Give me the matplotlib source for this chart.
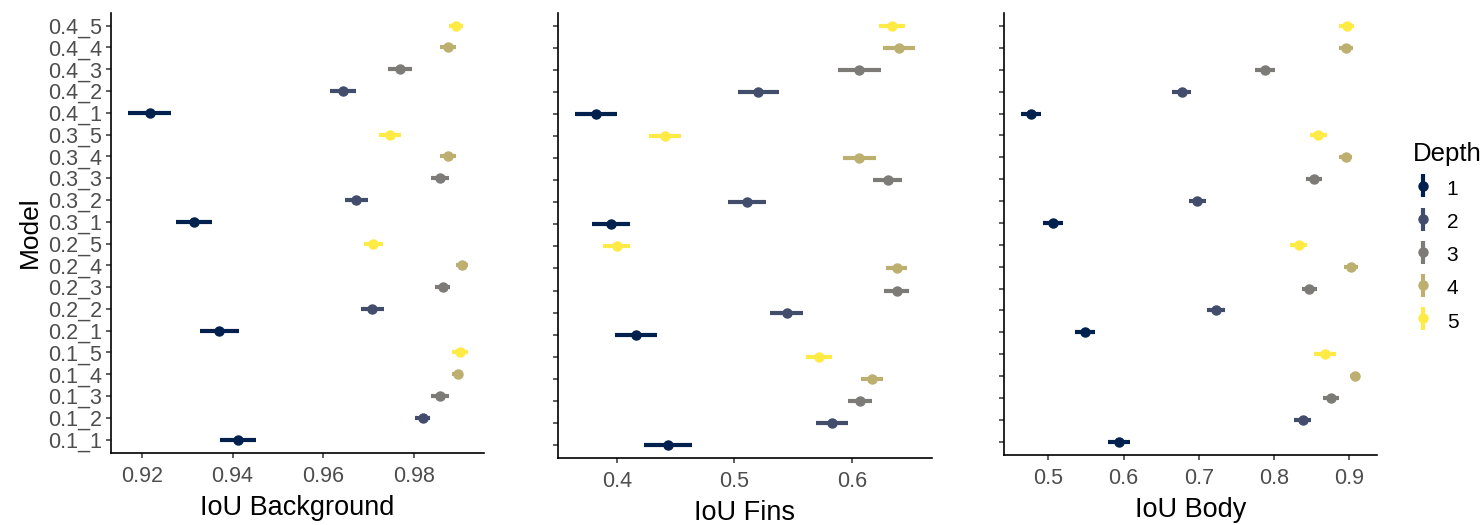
import numpy as np
import matplotlib
matplotlib.use('Agg')
import matplotlib.pyplot as plt
from matplotlib.legend_handler import HandlerErrorbar

plt.rcParams['font.family'] = ['Liberation Sans', 'DejaVu Sans']

# models from bottom to top of the y axis
models = ['0.1_1', '0.1_2', '0.1_3', '0.1_4', '0.1_5',
          '0.2_1', '0.2_2', '0.2_3', '0.2_4', '0.2_5',
          '0.3_1', '0.3_2', '0.3_3', '0.3_4', '0.3_5',
          '0.4_1', '0.4_2', '0.4_3', '0.4_4', '0.4_5']
depth = [1, 2, 3, 4, 5] * 4

bg_mean = [0.9412, 0.9819, 0.9857, 0.9896, 0.9901,
           0.9371, 0.9708, 0.9863, 0.9905, 0.9710,
           0.9315, 0.9673, 0.9857, 0.9875, 0.9746,
           0.9217, 0.9643, 0.9769, 0.9874, 0.9892]
bg_err = [0.0040, 0.0017, 0.0019, 0.0012, 0.0017,
          0.0042, 0.0025, 0.0017, 0.0013, 0.0021,
          0.0040, 0.0026, 0.0019, 0.0017, 0.0024,
          0.0047, 0.0028, 0.0026, 0.0018, 0.0015]

fins_mean = [0.4439, 0.5830, 0.6071, 0.6170, 0.5719,
             0.4162, 0.5447, 0.6383, 0.6383, 0.4000,
             0.3951, 0.5112, 0.6306, 0.6065, 0.4411,
             0.3824, 0.5205, 0.6065, 0.6400, 0.6340]
fins_err = [0.0203, 0.0138, 0.0099, 0.0092, 0.0109,
            0.0180, 0.0142, 0.0106, 0.0089, 0.0116,
            0.0165, 0.0162, 0.0123, 0.0139, 0.0135,
            0.0179, 0.0172, 0.0184, 0.0136, 0.0110]

body_mean = [0.5935, 0.8378, 0.8754, 0.9073, 0.8679,
             0.5487, 0.7227, 0.8467, 0.9020, 0.8325,
             0.5062, 0.6979, 0.8529, 0.8949, 0.8586,
             0.4766, 0.6771, 0.7878, 0.8954, 0.8963]
body_err = [0.0146, 0.0110, 0.0106, 0.0060, 0.0144,
            0.0135, 0.0122, 0.0097, 0.0089, 0.0110,
            0.0128, 0.0110, 0.0106, 0.0089, 0.0110,
            0.0133, 0.0124, 0.0137, 0.0097, 0.0102]

depth_levels = [1, 2, 3, 4, 5]
depth_colors = ['#00204D', '#414D6B', '#7C7B78', '#BCAF6F', '#FFEA46']

W, H = 1484, 525
fig = plt.figure(figsize=(W / 100, H / 100), dpi=100)


def px_axes(left, right, top, bottom):
    return fig.add_axes([left / W, 1 - bottom / H, (right - left) / W, (bottom - top) / H])


panels = [
    (px_axes(111, 484, 12.6, 452.7), bg_mean, bg_err, 'IoU Background',
     (0.9132, 0.9954), [0.92, 0.94, 0.96, 0.98]),
    (px_axes(557.7, 931.7, 12.6, 458.2), fins_mean, fins_err, 'IoU Fins',
     (0.3498, 0.668), [0.4, 0.5, 0.6]),
    (px_axes(1004.3, 1377.3, 12.9, 454.8), body_mean, body_err, 'IoU Body',
     (0.4416, 0.937), [0.5, 0.6, 0.7, 0.8, 0.9]),
]

y = np.arange(len(models))
depth_arr = np.array(depth)

for i, (ax, mean, err, xlabel, xlim, xticks) in enumerate(panels):
    mean = np.array(mean)
    err = np.array(err)
    for d, c in zip(depth_levels, depth_colors):
        m = depth_arr == d
        eb = ax.errorbar(mean[m], y[m], xerr=err[m], fmt='o', color=c,
                         ecolor=c, elinewidth=3.0, markersize=6.5, capsize=0)
        for coll in eb[2]:
            coll.set_capstyle('butt')
    ax.set_xlim(*xlim)
    ax.set_ylim(-0.6, len(models) - 0.4)
    ax.set_xticks(xticks)
    ax.set_xticklabels([f'{t:g}' for t in xticks])
    ax.set_yticks(y)
    if i == 0:
        ax.set_yticklabels(models)
        ax.set_ylabel('Model', fontsize=19, color='black', labelpad=4)
    else:
        ax.set_yticklabels([])
    ax.set_xlabel(xlabel, fontsize=19.5, color='black', labelpad=5.5)
    for s in ['top', 'right']:
        ax.spines[s].set_visible(False)
    for s in ['left', 'bottom']:
        ax.spines[s].set_linewidth(1.2)
        ax.spines[s].set_color('black')
    ax.tick_params(axis='both', length=3.5, width=1.1, color='#333333',
                   labelcolor='#4D4D4D', labelsize=15.5)
    ax.tick_params(axis='x', pad=6)
    ax.tick_params(axis='y', pad=3)

# legend keys: vertical pointrange like ggplot
dummy = fig.add_axes([0, 0, 0.001, 0.001])
dummy.set_axis_off()
leg_handles = []
for d, c in zip(depth_levels, depth_colors):
    h = dummy.errorbar([np.nan], [np.nan], yerr=[1], fmt='o', color=c, ecolor=c,
                       elinewidth=3.0, markersize=6.5, capsize=0)
    leg_handles.append(h)

leg = fig.legend(leg_handles, [str(d) for d in depth_levels], title='Depth',
                 loc='upper left', bbox_to_anchor=(1405 / W, 1 - 134 / H),
                 frameon=False, fontsize=15, title_fontsize=18.5,
                 handler_map={type(leg_handles[0]): HandlerErrorbar(xerr_size=0.55, yerr_size=0.55, numpoints=1)},
                 handlelength=0.9, handleheight=1.3, handletextpad=0.7,
                 labelspacing=0.5, borderaxespad=0)
leg._legend_box.align = 'left'

fig.savefig('out.png', dpi=100)
